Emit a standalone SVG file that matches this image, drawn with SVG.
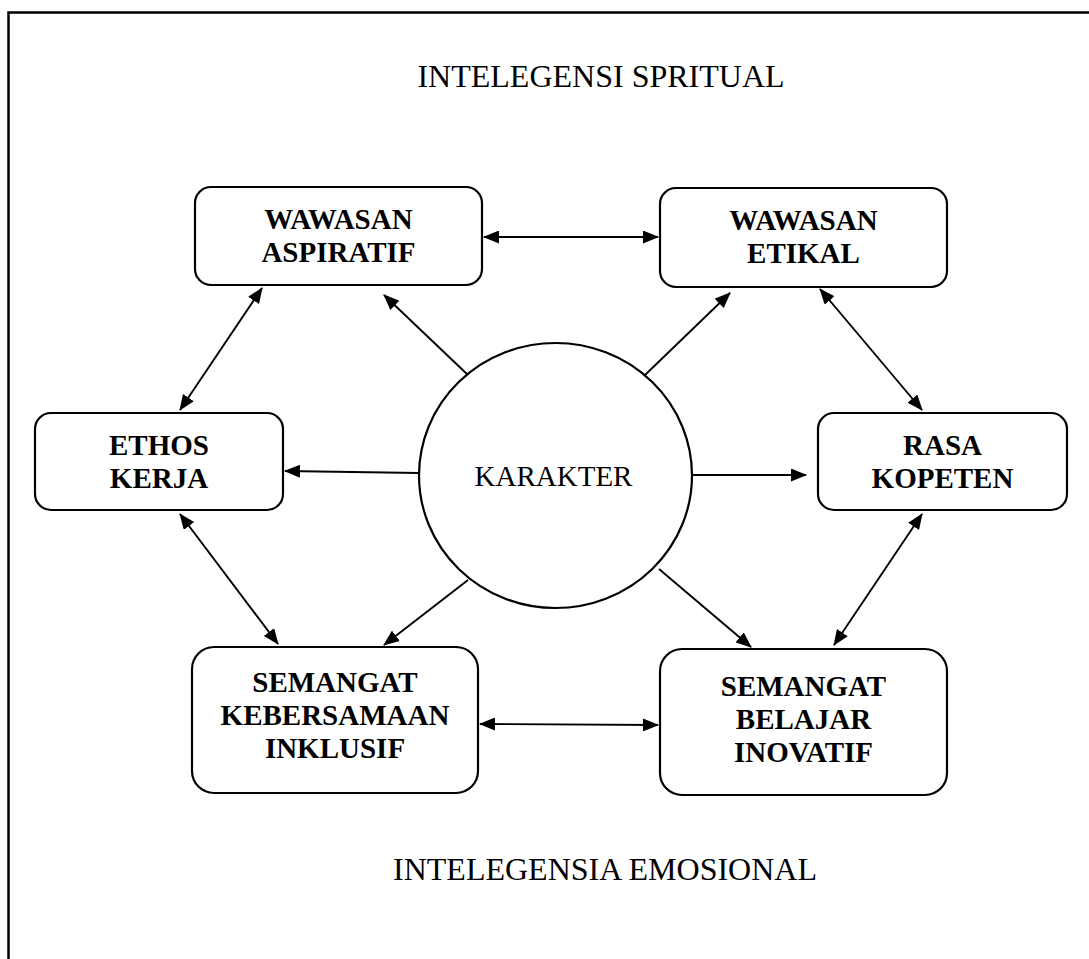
<svg xmlns="http://www.w3.org/2000/svg" width="1089" height="959" viewBox="0 0 1089 959">
<style>
.box{fill:#fff;stroke:#000;stroke-width:2.2}
.bt{font-family:"Liberation Serif","Times New Roman",serif;font-weight:bold;font-size:29px;text-anchor:middle;fill:#000}
.rt{font-family:"Liberation Serif","Times New Roman",serif;font-size:32px;text-anchor:middle;fill:#000}
.ln{stroke:#000;stroke-width:1.9;fill:none}
</style>
<defs>
<marker id="ah" markerUnits="userSpaceOnUse" markerWidth="16" markerHeight="13" refX="15" refY="6.5" orient="auto-start-reverse">
<path d="M0,0 L16,6.5 L0,13 z" fill="#000"/>
</marker>
</defs>
<rect width="1089" height="959" fill="#fff"/>
<path d="M8.5,959 V12.5 H1089" fill="none" stroke="#000" stroke-width="2.5"/>
<text class="rt" x="601" y="87">INTELEGENSI SPRITUAL</text>
<text class="rt" x="605" y="880">INTELEGENSIA EMOSIONAL</text>
<g id="connectors">
<line class="ln" x1="484" y1="237" x2="658" y2="237" marker-start="url(#ah)" marker-end="url(#ah)"/>
<line class="ln" x1="480" y1="724" x2="658" y2="725" marker-start="url(#ah)" marker-end="url(#ah)"/>
<line class="ln" x1="419" y1="473" x2="285" y2="471" marker-end="url(#ah)"/>
<line class="ln" x1="692" y1="475" x2="806" y2="475" marker-end="url(#ah)"/>
<line class="ln" x1="468" y1="375" x2="384" y2="295" marker-end="url(#ah)"/>
<line class="ln" x1="645" y1="375" x2="730" y2="293" marker-end="url(#ah)"/>
<line class="ln" x1="468" y1="580" x2="384" y2="645" marker-end="url(#ah)"/>
<line class="ln" x1="659" y1="569" x2="751" y2="647" marker-end="url(#ah)"/>
<line class="ln" x1="262" y1="288" x2="180" y2="410" marker-start="url(#ah)" marker-end="url(#ah)"/>
<line class="ln" x1="180" y1="514" x2="278" y2="644" marker-start="url(#ah)" marker-end="url(#ah)"/>
<line class="ln" x1="820" y1="289" x2="922" y2="410" marker-start="url(#ah)" marker-end="url(#ah)"/>
<line class="ln" x1="922" y1="514" x2="834" y2="645" marker-start="url(#ah)" marker-end="url(#ah)"/>
</g>
<g id="karakter">
<ellipse cx="555.5" cy="475.5" rx="136.5" ry="132.5" class="box"/>
<text x="553.5" y="486" font-family="'Liberation Serif','Times New Roman',serif" font-size="29" text-anchor="middle">KARAKTER</text>
</g>
<g id="wawasan-aspiratif">
<rect class="box" x="195" y="187" width="287" height="98" rx="16"/>
<text class="bt" x="338.5" y="229">WAWASAN</text>
<text class="bt" x="338.5" y="262">ASPIRATIF</text>
</g>
<g id="wawasan-etikal">
<rect class="box" x="660" y="188" width="287" height="99" rx="16"/>
<text class="bt" x="803.5" y="230">WAWASAN</text>
<text class="bt" x="803.5" y="263">ETIKAL</text>
</g>
<g id="ethos-kerja">
<rect class="box" x="35" y="413" width="248" height="97" rx="16"/>
<text class="bt" x="159" y="455">ETHOS</text>
<text class="bt" x="159" y="488">KERJA</text>
</g>
<g id="rasa-kopeten">
<rect class="box" x="818" y="413" width="249" height="97" rx="16"/>
<text class="bt" x="942.5" y="455">RASA</text>
<text class="bt" x="942.5" y="488">KOPETEN</text>
</g>
<g id="semangat-kebersamaan">
<rect class="box" x="192" y="647" width="286" height="146" rx="22"/>
<text class="bt" x="335" y="692">SEMANGAT</text>
<text class="bt" x="335" y="725">KEBERSAMAAN</text>
<text class="bt" x="335" y="758">INKLUSIF</text>
</g>
<g id="semangat-belajar">
<rect class="box" x="660" y="649" width="287" height="146" rx="22"/>
<text class="bt" x="803.5" y="696">SEMANGAT</text>
<text class="bt" x="803.5" y="729">BELAJAR</text>
<text class="bt" x="803.5" y="762">INOVATIF</text>
</g>
</svg>
